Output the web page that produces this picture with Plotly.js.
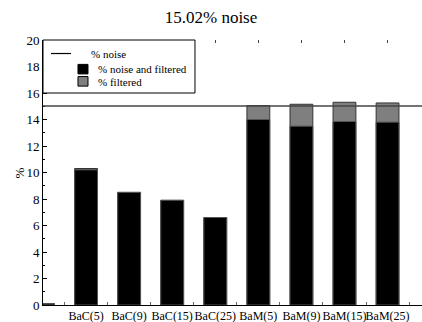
<!DOCTYPE html>
<html>
<head>
<meta charset="utf-8">
<script src="https://cdn.plot.ly/plotly-3.0.1.min.js"></script>
<style>
  html, body { margin: 0; padding: 0; background: #fff; }
  #chart { width: 422px; height: 322px; }
</style>
</head>
<body>
<div id="chart"></div>
<script>
// Methods compared (first slot is an unlabeled reference position)
const categories = [" ", "BaC(5)", "BaC(9)", "BaC(15)", "BaC(25)", "BaM(5)", "BaM(9)", "BaM(15)", "BaM(25)"];
// Percentage of instances that are both noisy and filtered
const noiseAndFiltered = [0.1, 10.2, 8.5, 7.9, 6.6, 14.0, 13.5, 13.85, 13.8];
// Percentage of instances filtered in total
const filtered = [0.1, 10.3, 8.5, 7.9, 6.6, 15.05, 15.15, 15.3, 15.25];
// Injected noise level
const noiseLevel = 15.02;
// Series names
const seriesNames = ["% noise", "% noise and filtered", "% filtered"];

const serif = "\"Liberation Serif\", \"Times New Roman\", serif";
const black = "#000", grey = "#7f7f7f";

const traces = [
  {
    type: "bar", name: seriesNames[2], x: categories, y: filtered,
    marker: { color: grey, line: { color: "#333", width: 1 } },
    width: 0.53
  },
  {
    type: "bar", name: seriesNames[1], x: categories, y: noiseAndFiltered,
    marker: { color: black, line: { color: "#555", width: 1 } },
    width: 0.53
  },
  {
    // invisible helper that carries the top centre ticks
    type: "bar", x: categories, y: filtered, xaxis: "x2",
    marker: { color: "rgba(0,0,0,0)" }, hoverinfo: "skip"
  }
];

// Boxed key in the upper-left corner of the plot (paper coordinates)
const key = { x0: 0, x1: 0.401, y0: 0.8, y1: 1 };
const keyShapes = [
  { type: "rect", xref: "paper", yref: "paper", x0: key.x0, x1: key.x1, y0: key.y0, y1: key.y1,
    line: { color: "#000", width: 1 }, fillcolor: "#fff", layer: "above" },
  { type: "line", xref: "paper", yref: "paper", x0: 0.021, x1: 0.074, y0: 0.949, y1: 0.949,
    line: { color: "#000", width: 1.2 }, layer: "above" },
  { type: "rect", xref: "paper", yref: "paper", x0: 0.0923, x1: 0.1187, y0: 0.872, y1: 0.908,
    line: { color: "#000", width: 1 }, fillcolor: black, layer: "above" },
  { type: "rect", xref: "paper", yref: "paper", x0: 0.0923, x1: 0.1187, y0: 0.826, y1: 0.862,
    line: { color: "#000", width: 1 }, fillcolor: grey, layer: "above" }
];
const keyLabels = [
  { text: seriesNames[0], x: 0.121, y: 0.949 },
  { text: seriesNames[1], x: 0.139, y: 0.890 },
  { text: seriesNames[2], x: 0.139, y: 0.843 }
].map(a => ({
  text: a.text, x: a.x, y: a.y, xref: "paper", yref: "paper",
  xanchor: "left", yanchor: "middle", showarrow: false,
  font: { family: serif, size: 11, color: "#000" }
}));

// Rotated "%" label beside the value axis
const yLabel = {
  text: "%", x: -0.061, y: 0.5, xref: "paper", yref: "paper",
  xanchor: "center", yanchor: "middle", textangle: -90, showarrow: false,
  font: { family: serif, size: 13, color: "#000" }
};

const layout = {
  width: 422, height: 322,
  margin: { l: 43, r: 0, t: 40, b: 17 },
  paper_bgcolor: "#fff", plot_bgcolor: "#fff",
  barmode: "overlay",
  showlegend: false,
  font: { family: serif, size: 12, color: "#000" },
  title: { text: "15.02% noise", font: { family: serif, size: 17, color: "#000" }, x: 0.5, xanchor: "center", y: 0.948, yanchor: "middle" },
  xaxis: {
    type: "category", range: [0, 8.8], autorange: false,
    showline: true, linecolor: "#000", linewidth: 1,
    ticks: "inside", ticklen: 3, tickcolor: "#666", tickson: "boundaries",
    showgrid: false, zeroline: false, tickangle: 0,
    tickfont: { family: serif, size: 12 }, automargin: false
  },
  xaxis2: {
    type: "category", overlaying: "x", side: "top", matches: "x",
    range: [0, 8.8], autorange: false,
    showline: false, ticks: "inside", ticklen: 3, tickcolor: "#444",
    showticklabels: false, showgrid: false, zeroline: false
  },
  yaxis: {
    range: [0, 20], autorange: false, dtick: 2,
    showline: true, linecolor: "#000", linewidth: 1,
    ticks: "inside", ticklen: 4, tickcolor: "#000",
    minor: { dtick: 1, ticks: "inside", ticklen: 2, tickcolor: "#000" },
    showgrid: false, zeroline: false,
    tickfont: { family: serif, size: 13 },
    automargin: false
  },
  shapes: [
    {
      type: "line", xref: "paper", x0: 0, x1: 1, yref: "y", y0: noiseLevel, y1: noiseLevel,
      line: { color: "#444", width: 1.5 }
    },
    ...keyShapes
  ],
  annotations: [...keyLabels, yLabel]
};

Plotly.newPlot("chart", traces, layout, { displayModeBar: false, staticPlot: true });
</script>
</body>
</html>
